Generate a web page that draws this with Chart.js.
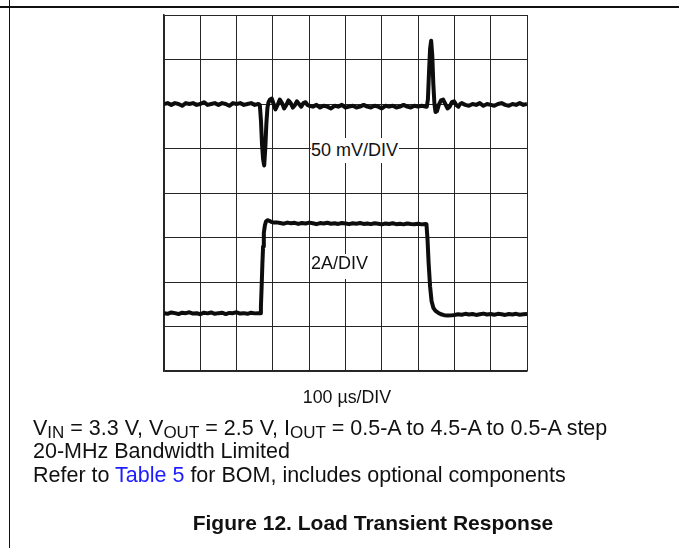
<!DOCTYPE html>
<html>
<head>
<meta charset="utf-8">
<script src="https://cdn.jsdelivr.net/npm/chart.js@4.4.1/dist/chart.umd.min.js"></script>
<style>
  body { margin: 0; background: #fff; }
  #page { position: relative; width: 679px; height: 548px; overflow: hidden; background: #fff;
          font-family: Arial, "Liberation Sans", Helvetica, sans-serif; color: #111; }
  #scope { position: absolute; left: 0; top: 0; }
  .rule-top { position: absolute; left: 0; top: 6px; width: 679px; height: 2px; background: #111; }
  .rule-left { position: absolute; left: 9px; top: 0; width: 1px; height: 548px; background: #111; }
  .lbl { position: absolute; background: #fff; font-size: 18px; white-space: nowrap; }
  .cap { position: absolute; left: 33px; font-size: 21.5px; line-height: 24px; white-space: nowrap; }
  .cap sub { font-size: 17px; vertical-align: -3px; line-height: 0; }
  .link { color: #1c1cff; }
</style>
</head>
<body>
<div id="page">
  <div class="rule-top"></div>
  <div class="rule-left"></div>
  <canvas id="scope" width="679" height="548"></canvas>

  <div class="lbl" style="left:311px; top:138px; width:88px; height:25px; line-height:25px;">50 mV/DIV</div>
  <div class="lbl" style="left:311px; top:254px; width:59px; height:25px; line-height:18px;">2A/DIV</div>

  <div style="position:absolute; left:0; width:694px; top:388px; text-align:center; font-size:17.8px; line-height:18px;">100 µs/DIV</div>
  <div class="cap" style="top:416px;">V<sub>IN</sub> = 3.3 V, V<sub>OUT</sub> = 2.5 V, I<sub>OUT</sub> = 0.5-A to 4.5-A to 0.5-A step</div>
  <div class="cap" style="top:439px;">20-MHz Bandwidth Limited</div>
  <div class="cap" style="top:463px;">Refer to <span class="link">Table 5</span> for BOM, includes optional components</div>
  <div style="position:absolute; left:0; width:746px; top:511px; text-align:center; font-size:21px; line-height:24px; font-weight:bold;">Figure 12. Load Transient Response</div>
</div>

<script>
// output voltage deviation from 2.5 V (mV), 50 mV/DIV
const voltTime = [
  0, 10, 20, 30, 40, 50, 60, 70, 80, 90, 100, 110, 120, 130, 140, 150, 160, 170, 180, 190, 200, 210, 220, 230, 240, 250, 260,
  264, 267, 270, 273, 276, 279, 282, 285, 288, 292, 297, 302, 307, 313, 319, 325, 331, 337, 343, 349, 355, 361, 366, 372, 378, 384, 390, 395,
  400, 410, 420, 430, 440, 450, 460, 470, 480, 490, 500, 510, 520, 530, 540, 550, 560, 570, 580, 590, 600, 610, 620, 630, 640, 650, 660, 670, 680, 690, 700, 710, 720,
  724, 727, 730, 733, 736, 739, 742, 745, 748, 752, 757, 763, 769, 775, 781, 787, 793, 799, 805, 811, 816,
  820, 830, 840, 850, 860, 870, 880, 890, 900, 910, 920, 930, 940, 950, 960, 970, 980, 990, 1000
];
const voltDev = [
  0, 1, -1, 1, 0, -2, 1, 0, 1, -1, 0, 2, -1, 0, 1, -1, 1, 0, -2, 1, 0, 1, -1, 0, 1, -1, 0,
  -1, -18, -45, -62, -69, -50, -22, -4, 2, 5, 6, 0, -6, -1, 5, 1, -5, -1, 4, 1, -4, -1, 3, 0, -3, 1, 2, -1,
  -2, -3, -1, -4, -2, -3, -5, -2, -3, -1, -4, -3, -2, -4, -3, -1, -3, -4, -2, -3, -5, -2, -3, -2, -4, -3, -1, -3, -4, -2, -3, -2, -3,
  -3, 5, 35, 62, 71, 55, 22, 0, -9, -8, -1, 4, 5, 0, -5, -3, 2, 3, -1, -3, 0,
  1, -1, -2, 0, -1, 1, -2, 0, -1, -2, 0, 1, -1, -2, 0, -1, 1, -1, 0
];

// output current (A), 2 A/DIV
const currTime = [
  0, 10, 20, 30, 40, 50, 60, 70, 80, 90, 100, 110, 120, 130, 140, 150, 160, 170, 180, 190, 200, 210, 220, 230, 240, 250, 260,
  265, 267, 269, 271, 273, 275, 278, 281, 285, 290, 296, 302,
  310, 320, 330, 340, 350, 360, 370, 380, 390, 400, 410, 420, 430, 440, 450, 460, 470, 480, 490, 500, 510, 520, 530, 540, 550, 560, 570, 580, 590, 600, 610, 620, 630, 640, 650, 660, 670, 680, 690, 700, 710, 720,
  723, 726, 729, 733, 737, 742, 748, 755, 763, 772, 782, 792,
  800, 810, 820, 830, 840, 850, 860, 870, 880, 890, 900, 910, 920, 930, 940, 950, 960, 970, 980, 990, 1000
];
const currAmp = [
  0.5, 0.47, 0.53, 0.5, 0.46, 0.52, 0.5, 0.54, 0.48, 0.5, 0.45, 0.52, 0.49, 0.53, 0.47, 0.5, 0.52, 0.46, 0.51, 0.5, 0.54, 0.48, 0.5, 0.47, 0.52, 0.49, 0.5,
  0.5, 0.8, 1.7, 2.7, 3.5, 4.1, 4.45, 4.62, 4.68, 4.65, 4.6, 4.57,
  4.58, 4.55, 4.52, 4.57, 4.54, 4.56, 4.51, 4.55, 4.53, 4.57, 4.54, 4.5, 4.55, 4.53, 4.56, 4.52, 4.54, 4.51, 4.55, 4.53, 4.5, 4.54, 4.52, 4.55, 4.51, 4.53, 4.5, 4.54, 4.52, 4.49, 4.53, 4.51, 4.54, 4.5, 4.52, 4.49, 4.53, 4.51, 4.5, 4.52, 4.49, 4.51,
  4.5, 3.8, 2.75, 1.7, 1.05, 0.74, 0.6, 0.52, 0.45, 0.41, 0.39, 0.4,
  0.42, 0.45, 0.43, 0.47, 0.44, 0.46, 0.42, 0.45, 0.48, 0.44, 0.46, 0.43, 0.47, 0.45, 0.42, 0.46, 0.44, 0.47, 0.43, 0.45, 0.46
];

const traceColor = '#0d0d0d';
const gridColor = '#262626';

const ctx = document.getElementById('scope').getContext('2d');
new Chart(ctx, {
    type: 'line',
    data: {
        datasets: [{
            label: 'VOUT',
            data: voltTime.map((t, i) => ({ x: t, y: voltDev[i] })),
            yAxisID: 'yV',
            borderColor: traceColor,
            borderWidth: 4,
            pointRadius: 0,
            tension: 0,
            borderJoinStyle: 'round'
        }, {
            label: 'IOUT',
            data: currTime.map((t, i) => ({ x: t, y: currAmp[i] })),
            yAxisID: 'yI',
            borderColor: traceColor,
            borderWidth: 4,
            pointRadius: 0,
            tension: 0,
            borderJoinStyle: 'round'
        }]
    },
    options: {
        responsive: false,
        animation: false,
        layout: { padding: { left: 164, top: 15, right: 152, bottom: 177 } },
        plugins: {
            legend: { display: false },
            tooltip: { enabled: false }
        },
        scales: {
            x: {
                type: 'linear',
                min: 0, max: 1000,
                ticks: { display: false, stepSize: 100 },
                grid: { color: gridColor, lineWidth: 1, drawTicks: false },
                border: { color: gridColor, width: 1.5 }
            },
            yV: {
                position: 'left',
                min: -300, max: 100,
                ticks: { display: false, stepSize: 50 },
                grid: { color: gridColor, lineWidth: 1, drawTicks: false },
                border: { color: gridColor, width: 1.5 }
            },
            yI: {
                display: false,
                min: -2.1, max: 13.9
            }
        }
    }
});
</script>
</body>
</html>
